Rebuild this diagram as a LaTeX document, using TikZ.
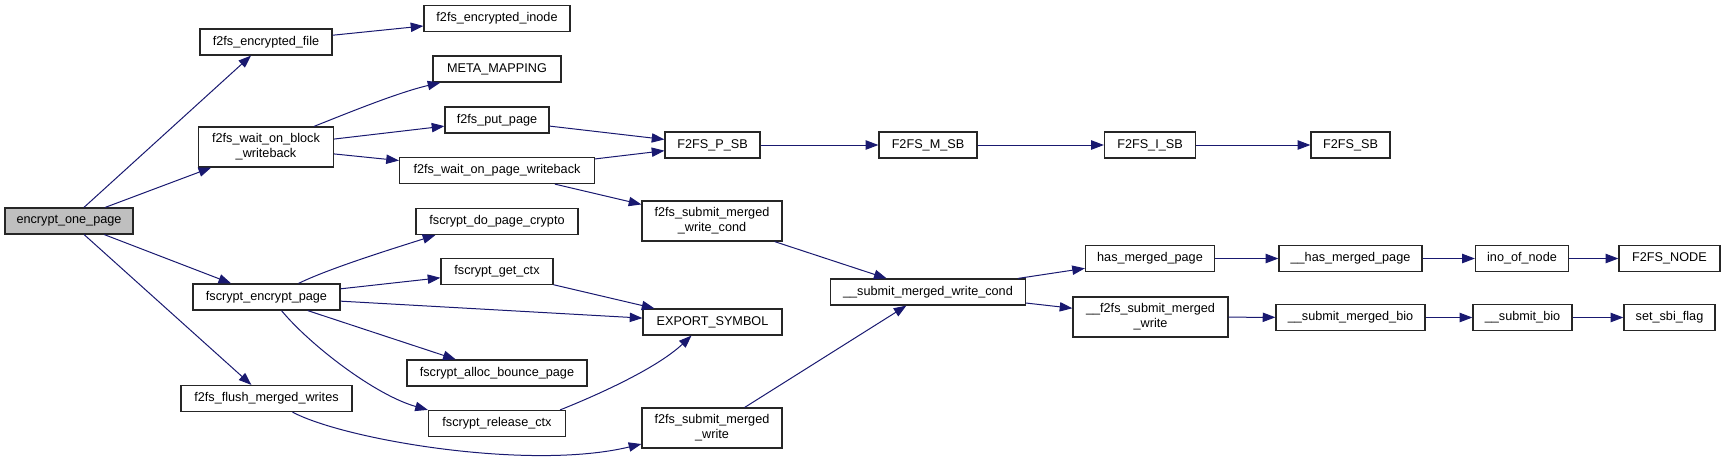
\documentclass[tikz,border=0pt]{standalone}
\usepackage{fontspec}
\setmainfont{Liberation Sans}
\usetikzlibrary{arrows.meta,calc}
\definecolor{edgeblue}{HTML}{191970}
\definecolor{boxgray}{HTML}{BFBFBF}
\tikzset{
  fn/.style={draw=black!85, fill=white, line width=0.9pt, inner sep=0pt, align=center,
    font=\fontsize{9.5}{11.25}\selectfont},
  bw/.style={minimum width=#1*0.75pt},
  bh/.style={minimum height=#1*0.75pt},
  conn/.style={draw=edgeblue, line width=0.75pt, -{Triangle[length=9.5pt,width=7pt]}}
}
\begin{document}
\begin{tikzpicture}[x=0.75pt,y=-0.75pt]
\useasboundingbox (0,0) rectangle (1725,462);
% nodes
\node[fn,bw=128,bh=26,fill=boxgray] (eop) at (69,221) {encrypt\_one\_page};
\node[fn,bw=132,bh=26] (encfile) at (266,42) {f2fs\_encrypted\_file};
\node[fn,bw=146,bh=26] (encinode) at (497,18.5) {f2fs\_encrypted\_inode};
\node[fn,bw=128,bh=26] (meta) at (497,69) {META\_MAPPING};
\node[fn,bw=135,bh=40] (wob) at (266,147) {f2fs\_wait\_on\_block\\\_writeback};
\node[fn,bw=104,bh=26] (putpage) at (497,120) {f2fs\_put\_page};
\node[fn,bw=195,bh=26] (wopw) at (497,170.5) {f2fs\_wait\_on\_page\_writeback};
\node[fn,bw=162,bh=26] (dopc) at (497,221.5) {fscrypt\_do\_page\_crypto};
\node[fn,bw=147,bh=26] (encpage) at (266.5,297) {fscrypt\_encrypt\_page};
\node[fn,bw=112,bh=26] (getctx) at (497,271.5) {fscrypt\_get\_ctx};
\node[fn,bw=180,bh=26] (alloc) at (497,373) {fscrypt\_alloc\_bounce\_page};
\node[fn,bw=171,bh=26] (flush) at (266.5,398.5) {f2fs\_flush\_merged\_writes};
\node[fn,bw=137,bh=26] (release) at (497,423.5) {fscrypt\_release\_ctx};
\node[fn,bw=95,bh=26] (psb) at (712.5,145) {F2FS\_P\_SB};
\node[fn,bw=98,bh=26] (msb) at (928,145) {F2FS\_M\_SB};
\node[fn,bw=91,bh=26] (isb) at (1150,145) {F2FS\_I\_SB};
\node[fn,bw=79,bh=26] (sb) at (1350.5,145) {F2FS\_SB};
\node[fn,bw=140,bh=40] (smwc) at (712,221) {f2fs\_submit\_merged\\\_write\_cond};
\node[fn,bw=139,bh=26] (export) at (712.5,322) {EXPORT\_SYMBOL};
\node[fn,bw=140,bh=40] (smw) at (712,428) {f2fs\_submit\_merged\\\_write};
\node[fn,bw=195,bh=26] (usmwc) at (928,292) {\_\_submit\_merged\_write\_cond};
\node[fn,bw=129,bh=26] (hmp) at (1150,258.5) {has\_merged\_page};
\node[fn,bw=155,bh=40] (ufsmw) at (1150.5,317) {\_\_f2fs\_submit\_merged\\\_write};
\node[fn,bw=143,bh=26] (uhmp) at (1350.5,258.5) {\_\_has\_merged\_page};
\node[fn,bw=93,bh=26] (ino) at (1522,258.5) {ino\_of\_node};
\node[fn,bw=101,bh=26] (fnode) at (1669.5,258.5) {F2FS\_NODE};
\node[fn,bw=149,bh=26] (usmb) at (1350.5,317.5) {\_\_submit\_merged\_bio};
\node[fn,bw=99,bh=26] (usb) at (1522.5,317.5) {\_\_submit\_bio};
\node[fn,bw=91,bh=26] (sbi) at (1669.5,317.5) {set\_sbi\_flag};
% connectors
\draw[conn] (eop) -- (encfile);
\draw[conn] (eop) -- (wob);
\draw[conn] (eop) -- (encpage);
\draw[conn] (eop) -- (flush);
\draw[conn] (encfile) -- (encinode);
\draw[conn] ($(wob.north)+(48,0)$) .. controls (355,110) and (400,92) .. ($(meta.south west)+(8,0)$);
\draw[conn] (wob) -- (putpage);
\draw[conn] (wob) -- (wopw);
\draw[conn] (putpage) -- (psb);
\draw[conn] (wopw) -- (psb);
\draw[conn] (wopw) -- (smwc);
\draw[conn] (psb) -- (msb);
\draw[conn] (msb) -- (isb);
\draw[conn] (isb) -- (sb);
\draw[conn] ($(encpage.north)+(32,0)$) .. controls (330,268) and (395,248) .. ($(dopc.south west)+(20,0)$);
\draw[conn] (encpage) -- (getctx);
\draw[conn] (encpage) -- (export);
\draw[conn] (encpage) -- (alloc);
\draw[conn] ($(encpage.south)+(15,0)$) .. controls (310,345) and (375,395) .. (release.north west);
\draw[conn] (getctx) -- (export);
\draw[conn] ($(release.north east)+(-6,0)$) .. controls (590,398) and (655,370) .. ($(export.south)+(-21,0)$);
\draw[conn] ($(flush.south)+(26,0)$) .. controls (345,440) and (530,471) .. ($(smw.west)+(0,16)$);
\draw[conn] (smwc) -- (usmwc);
\draw[conn] (smw) -- (usmwc);
\draw[conn] (usmwc) -- (hmp);
\draw[conn] (usmwc) -- (ufsmw);
\draw[conn] (hmp) -- (uhmp);
\draw[conn] (uhmp) -- (ino);
\draw[conn] (ino) -- (fnode);
\draw[conn] (ufsmw) -- (usmb);
\draw[conn] (usmb) -- (usb);
\draw[conn] (usb) -- (sbi);
\end{tikzpicture}
\end{document}
